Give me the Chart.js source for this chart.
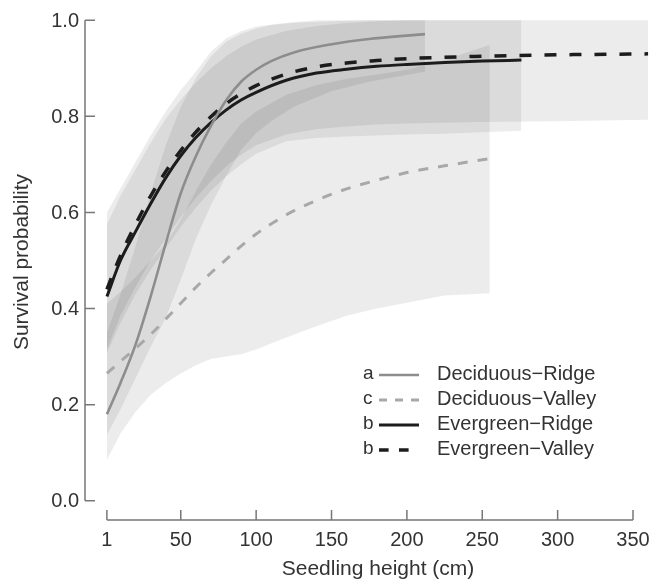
<!DOCTYPE html>
<html>
<head>
<meta charset="utf-8">
<script src="https://cdn.jsdelivr.net/npm/chart.js@4/dist/chart.umd.min.js"></script>
<style>
  html, body { margin: 0; padding: 0; background: #fff; }
  canvas { display: block; }
</style>
</head>
<body>
<canvas id="survChart" width="652" height="583"></canvas>
<script>
// ---------- data ----------
const xTicks = [1, 50, 100, 150, 200, 250, 300, 350];
const yTicks = [0, 0.2, 0.4, 0.6, 0.8, 1.0];

// Deciduous-Ridge
const drX   = [1, 10, 20, 30, 40, 50, 60, 70, 80, 90, 100, 110, 125, 150, 175, 200, 212];
const drY   = [0.18, 0.245, 0.325, 0.425, 0.535, 0.64, 0.717, 0.78, 0.833, 0.872, 0.897, 0.915, 0.933, 0.95, 0.961, 0.968, 0.971];
const drUp  = [0.35, 0.43, 0.53, 0.64, 0.74, 0.82, 0.88, 0.925, 0.955, 0.972, 0.983, 0.99, 0.995, 0.998, 1.0, 1.0, 1.0];
const drLow = [0.137, 0.19, 0.255, 0.32, 0.38, 0.46, 0.545, 0.615, 0.675, 0.73, 0.765, 0.79, 0.82, 0.852, 0.872, 0.886, 0.893];

// Deciduous-Valley
const dvX   = [1, 10, 20, 30, 40, 50, 60, 70, 80, 90, 100, 120, 140, 160, 180, 200, 225, 255];
const dvY   = [0.265, 0.29, 0.317, 0.346, 0.378, 0.411, 0.444, 0.474, 0.502, 0.53, 0.555, 0.595, 0.625, 0.649, 0.667, 0.683, 0.697, 0.712];
const dvUp  = [0.41, 0.435, 0.465, 0.50, 0.535, 0.585, 0.645, 0.70, 0.745, 0.785, 0.81, 0.845, 0.865, 0.878, 0.887, 0.897, 0.917, 0.949];
const dvLow = [0.085, 0.14, 0.185, 0.22, 0.245, 0.265, 0.282, 0.295, 0.30, 0.305, 0.315, 0.34, 0.363, 0.385, 0.40, 0.412, 0.427, 0.432];

// Evergreen-Ridge
const erX   = [1, 10, 20, 30, 40, 50, 60, 70, 80, 90, 100, 120, 140, 160, 180, 200, 225, 250, 276];
const erY   = [0.425, 0.50, 0.56, 0.618, 0.672, 0.718, 0.756, 0.787, 0.813, 0.834, 0.85, 0.875, 0.89, 0.898, 0.904, 0.908, 0.912, 0.915, 0.917];
const erUp  = [0.575, 0.635, 0.69, 0.745, 0.795, 0.835, 0.87, 0.90, 0.925, 0.945, 0.96, 0.978, 0.988, 0.994, 0.998, 1.0, 1.0, 1.0, 1.0];
const erLow = [0.307, 0.37, 0.43, 0.48, 0.525, 0.57, 0.61, 0.645, 0.675, 0.70, 0.722, 0.748, 0.755, 0.758, 0.76, 0.762, 0.764, 0.767, 0.77];

// Evergreen-Valley
const evX   = [1, 10, 20, 30, 40, 50, 60, 70, 80, 90, 100, 120, 140, 160, 180, 200, 250, 300, 360];
const evY   = [0.44, 0.51, 0.575, 0.634, 0.685, 0.729, 0.767, 0.799, 0.826, 0.847, 0.864, 0.888, 0.903, 0.911, 0.916, 0.92, 0.925, 0.928, 0.93];
const evUp  = [0.60, 0.65, 0.705, 0.76, 0.81, 0.855, 0.893, 0.935, 0.962, 0.977, 0.987, 0.995, 1.0, 1.0, 1.0, 1.0, 1.0, 1.0, 1.0];
const evLow = [0.315, 0.385, 0.445, 0.50, 0.545, 0.59, 0.63, 0.665, 0.695, 0.72, 0.74, 0.762, 0.773, 0.779, 0.783, 0.785, 0.788, 0.79, 0.793];

const legendLetters = ['a', 'c', 'b', 'b'];
const legendNames = ['Deciduous\u2212Ridge', 'Deciduous\u2212Valley', 'Evergreen\u2212Ridge', 'Evergreen\u2212Valley'];

/* ======================================
        HELPERS
========================================*/
const pts = (xs, ys) => xs.map((x, i) => ({ x: x, y: ys[i] }));
const bandFill = 'rgba(0,0,0,0.075)';

function bandSets(xs, up, low) {
  return [
    { data: pts(xs, up), borderWidth: 0, pointRadius: 0, fill: false, order: 10, tension: 0 },
    { data: pts(xs, low), borderWidth: 0, pointRadius: 0, fill: '-1', backgroundColor: bandFill, order: 10, tension: 0 }
  ];
}

const lineStyles = [
  { color: '#8d8d8d', width: 2.6, dash: [] },
  { color: '#a8a8a8', width: 3, dash: [10, 10] },
  { color: '#1c1c1c', width: 3, dash: [] },
  { color: '#1c1c1c', width: 3.5, dash: [12, 13] }
];

function lineSet(xs, ys, st) {
  return {
    data: pts(xs, ys), borderColor: st.color, borderWidth: st.width, borderDash: st.dash,
    pointRadius: 0, fill: false, order: 0, cubicInterpolationMode: 'monotone', borderCapStyle: 'butt'
  };
}

/* ======================================
        AXES + LEGEND (R style)
========================================*/
const FONT = "'Liberation Sans', Arial, sans-serif";
const rAxes = {
  id: 'rAxes',
  afterDraw(chart) {
    const ctx = chart.ctx;
    const xs = chart.scales.x, ys = chart.scales.y;
    const area = chart.chartArea;
    ctx.save();
    ctx.strokeStyle = '#777';
    ctx.lineWidth = 1.5;
    ctx.fillStyle = '#333';

    // y axis
    const ax = area.left;
    ctx.beginPath();
    ctx.moveTo(ax, ys.getPixelForValue(yTicks[0]));
    ctx.lineTo(ax, ys.getPixelForValue(yTicks[yTicks.length - 1]));
    yTicks.forEach(t => {
      const py = ys.getPixelForValue(t);
      ctx.moveTo(ax, py);
      ctx.lineTo(ax + 10, py);
    });
    ctx.stroke();
    ctx.font = '20px ' + FONT;
    ctx.textAlign = 'right';
    ctx.textBaseline = 'middle';
    yTicks.forEach(t => ctx.fillText(t.toFixed(1), ax - 6, ys.getPixelForValue(t) + 1));

    // x axis
    const ay = area.bottom;
    ctx.beginPath();
    ctx.moveTo(xs.getPixelForValue(xTicks[0]), ay);
    ctx.lineTo(xs.getPixelForValue(xTicks[xTicks.length - 1]), ay);
    xTicks.forEach(t => {
      const px = xs.getPixelForValue(t);
      ctx.moveTo(px, ay);
      ctx.lineTo(px, ay - 10);
    });
    ctx.stroke();
    ctx.textAlign = 'center';
    xTicks.forEach(t => ctx.fillText(String(t), xs.getPixelForValue(t), ay + 20));

    // titles
    ctx.font = '21px ' + FONT;
    ctx.fillText('Seedling height (cm)', 378, 569);
    ctx.save();
    ctx.translate(22, 262);
    ctx.rotate(-Math.PI / 2);
    ctx.fillText('Survival probability', 0, 0);
    ctx.restore();

    // legend
    legendNames.forEach((name, i) => {
      const y = 374 + i * 25;
      const st = lineStyles[i];
      ctx.font = '19px ' + FONT;
      ctx.textAlign = 'left';
      ctx.fillStyle = '#333';
      ctx.fillText(legendLetters[i], 363, y);
      ctx.beginPath();
      ctx.setLineDash(st.dash.length ? [st.dash[0] * 0.8, st.dash[1] * 0.8] : []);
      ctx.strokeStyle = st.color;
      ctx.lineWidth = st.width;
      ctx.moveTo(379, y + 1);
      ctx.lineTo(419, y + 1);
      ctx.stroke();
      ctx.setLineDash([]);
      ctx.font = '20px ' + FONT;
      ctx.fillText(name, 437, y);
    });
    ctx.restore();
  }
};

/* ======================================
        CHART
========================================*/
const datasets = [].concat(
  bandSets(drX, drUp, drLow),
  bandSets(dvX, dvUp, dvLow),
  bandSets(erX, erUp, erLow),
  bandSets(evX, evUp, evLow),
  [lineSet(dvX, dvY, lineStyles[1]),
   lineSet(drX, drY, lineStyles[0]),
   lineSet(evX, evY, lineStyles[3]),
   lineSet(erX, erY, lineStyles[2])]
);

new Chart(document.getElementById('survChart').getContext('2d'), {
  type: 'line',
  data: { datasets: datasets },
  options: {
    responsive: false,
    animation: false,
    devicePixelRatio: 1,
    layout: { padding: { left: 85, right: 0, top: 1, bottom: 63 } },
    plugins: { legend: { display: false }, tooltip: { enabled: false } },
    scales: {
      x: { type: 'linear', min: -13.53, max: 362.6, display: false },
      y: { type: 'linear', min: -0.04, max: 1.04, display: false }
    }
  },
  plugins: [rAxes]
});
</script>
</body>
</html>
